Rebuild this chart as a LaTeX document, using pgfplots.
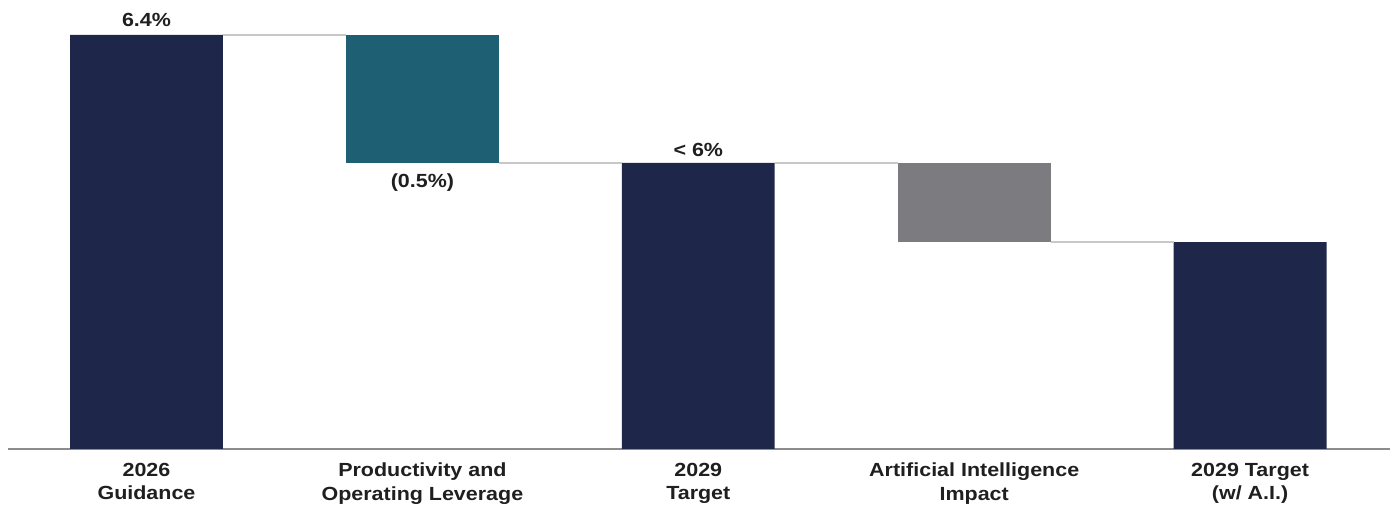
\documentclass[border=0pt]{standalone}
\usepackage{fontspec}
\setmainfont{Liberation Sans}[FakeStretch=1.13]
\usepackage{pgfplots}
\pgfplotsset{compat=1.18}
\definecolor{navy}{HTML}{1E2749}
\definecolor{teal2}{HTML}{1E5F74}
\definecolor{grayb}{HTML}{7B7B80}
\definecolor{conn}{HTML}{C8C8C8}
\begin{document}
\begin{tikzpicture}
\pgfplotsset{
  common/.style={
    width=691pt, height=217pt, scale only axis,
    xmin=-0.502, xmax=4.507,
    ymin=4.783, ymax=6.478,
    axis y line=none,
    ytick=\empty,
  }
}
\begin{axis}[common,
    ybar stacked, bar width=0.554,
    bar shift=0pt,
    axis x line*=bottom,
    x axis line style={draw=black!45, line width=1pt},
    xtick={0,1,2,3,4},
    xtick style={draw=none},
    xticklabels={{2026\\Guidance},{Productivity and\\Operating Leverage},{2029\\Target},{Artificial Intelligence\\Impact},{2029 Target\\(w/ A.I.)}},
    xticklabel style={align=center, font=\fontsize{9.5}{11.6}\selectfont\bfseries, text=black!88, yshift=-3.5pt},
    clip mode=individual,
  ]
  % invisible base
  \addplot[draw=none, fill=none] coordinates {(0,0) (1,5.9) (2,0) (3,5.591) (4,0)};
  \addplot[draw=none, fill=navy] coordinates {(0,6.4) (1,0) (2,5.9) (3,0) (4,5.591)};
  \addplot[draw=none, fill=teal2] coordinates {(0,0) (1,0.5) (2,0) (3,0) (4,0)};
  \addplot[draw=none, fill=grayb] coordinates {(0,0) (1,0) (2,0) (3,0.309) (4,0)};
  \node[anchor=south, font=\fontsize{9.5}{11}\selectfont\bfseries, text=black!88, inner sep=0pt, yshift=4pt] at (axis cs:0,6.4) {6.4\%};
  \node[anchor=north, font=\fontsize{9.5}{11}\selectfont\bfseries, text=black!88, inner sep=0pt, yshift=-5pt] at (axis cs:1,5.9) {(0.5\%)};
  \node[anchor=south, font=\fontsize{9.5}{11}\selectfont\bfseries, text=black!88, inner sep=0pt, yshift=3pt] at (axis cs:2,5.9) {< 6\%};
\end{axis}
\begin{axis}[common, axis x line=none, xtick=\empty]
  \addplot[conn, line width=0.7pt] coordinates {(0.277,6.4) (0.723,6.4)};
  \addplot[conn, line width=0.7pt] coordinates {(1.277,5.9) (1.723,5.9)};
  \addplot[conn, line width=0.7pt] coordinates {(2.277,5.9) (2.723,5.9)};
  \addplot[conn, line width=0.7pt] coordinates {(3.277,5.591) (3.723,5.591)};
\end{axis}
\pgfresetboundingbox
\path ([shift={(-4pt,-33.5pt)}]current axis.south west) rectangle ([shift={(2pt,7.5pt)}]current axis.north east);
\end{tikzpicture}
\end{document}
